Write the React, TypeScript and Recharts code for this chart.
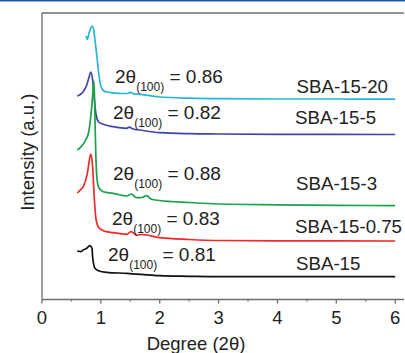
import { LineChart, Line, XAxis, YAxis, ReferenceLine } from "recharts";

// x = degree (2θ), y = intensity (a.u., curves stacked with offsets)
const sba15_20 = [
  [0.75, 263.5], [0.77, 260], [0.8, 266.5], [0.83, 271.5], [0.855, 273.5],
  [0.88, 269.5], [0.9, 259.5], [0.93, 244.5], [0.97, 223.5], [1.0, 213.5],
  [1.04, 209], [1.1, 207.5], [1.2, 206.7], [1.35, 206], [1.44, 206],
  [1.5, 207.2], [1.56, 205.7], [1.66, 205.2], [1.83, 203.8], [2.0, 202.5],
  [2.5, 201.3], [3.0, 200.8], [4.0, 200.5], [5.0, 200.5], [6.0, 200.3],
];
const sba15_5 = [
  [0.6, 203.5], [0.65, 205], [0.7, 207.8], [0.76, 214.5], [0.8, 222.5],
  [0.83, 227.5], [0.86, 219.5], [0.89, 199.5], [0.92, 184.5], [0.96, 177.8],
  [1.04, 175.2], [1.21, 172.8], [1.44, 171.2], [1.48, 172.3], [1.55, 170.5],
  [1.66, 169.5], [2.0, 166.8], [2.5, 165.8], [3.0, 165.5], [4.0, 165.2],
  [6.0, 165],
];
const sba15_3 = [
  [0.6, 149.5], [0.69, 154.5], [0.75, 160.5], [0.79, 166.5], [0.84, 189.5],
  [0.865, 207.5], [0.885, 218.5], [0.9, 179.5], [0.917, 139.5], [0.94, 117.8],
  [0.97, 111.2], [1.04, 107.8], [1.21, 106.2], [1.44, 103.5], [1.52, 105.5],
  [1.6, 101.8], [1.7, 102], [1.78, 103.8], [1.85, 100.5], [2.0, 99],
  [2.5, 97], [3.0, 95.5], [4.0, 94.7], [5.0, 94.2], [6.0, 93.8],
];
const sba15_075 = [
  [0.6, 106.5], [0.65, 109.5], [0.7, 112.8], [0.77, 126.2], [0.8, 137.5],
  [0.83, 145.5], [0.86, 132.8], [0.89, 99.5], [0.92, 79.5], [0.96, 72.2],
  [1.04, 68.8], [1.21, 66.8], [1.44, 65.2], [1.51, 67.8], [1.61, 64.5],
  [1.7, 65], [1.78, 64.5], [2.0, 61.8], [2.5, 60], [3.0, 59], [4.0, 58.7],
  [6.0, 58.5],
];
const sba15 = [
  [0.6, 48.8], [0.66, 47.8], [0.7, 49.5], [0.76, 51.2], [0.81, 53.8],
  [0.85, 51.2], [0.86, 42.8], [0.875, 36.2], [0.9, 31.2], [0.96, 28.8],
  [1.1, 27.2], [1.44, 26.2], [2.0, 23.8], [2.5, 23.2], [3.0, 22.8],
  [6.0, 22.8],
];

const sampleNames = ["SBA-15-20", "SBA-15-5", "SBA-15-3", "SBA-15-0.75", "SBA-15"];
const peakPositions = ["0.86", "0.82", "0.88", "0.83", "0.81"];
const colors = ["#27b6d6", "#3c47a6", "#19a24a", "#f02828", "#111111"];
const seriesData = [sba15_20, sba15_5, sba15_3, sba15_075, sba15];

const xTicks = [0, 0.5, 1, 1.5, 2, 2.5, 3, 3.5, 4, 4.5, 5, 5.5, 6];

const toPoints = (arr: number[][]) => arr.map(([x, y]) => ({ x, y }));

const FONT = "'Liberation Sans', Arial, sans-serif";
const AXIS = "#6e6e6e";

const DegreeTick = (props: any) => {
  const { x, y, payload } = props;
  const major = Number.isInteger(payload.value);
  return (
    <g>
      <line x1={x} x2={x} y1={y} y2={y + (major ? 4 : 2)} stroke={AXIS} strokeWidth={1.3} />
      {major && (
        <text x={x} y={y + 24} textAnchor="middle" fontSize={18.5} fill="#222" fontFamily={FONT}>
          {payload.value}
        </text>
      )}
    </g>
  );
};

// text placement (px)
const annotPos = [
  [115, 83], [113, 119], [113, 179.5], [112, 224.5], [108, 260.5],
];
const namePos = [
  [296.5, 92.5], [295, 124], [296, 190], [295, 232.5], [296, 270],
];

export default function App() {
  return (
    <div style={{ position: "absolute", left: 0, top: 0, width: 405, height: 353, background: "#fff", overflow: "hidden" }}>
      <LineChart
        width={405}
        height={353}
        margin={{ top: 13, right: 1, bottom: 0, left: 0 }}
        style={{ fontFamily: FONT }}
      >
        <XAxis
          type="number"
          dataKey="x"
          domain={[0, 6.15]}
          ticks={xTicks}
          interval={0}
          allowDataOverflow
          height={53.5}
          tickSize={0}
          tickMargin={0}
          tickLine={false}
          axisLine={{ stroke: AXIS, strokeWidth: 1.3 }}
          tick={<DegreeTick />}
          label={{
            content: ({ viewBox }: any) => (
              <text x={viewBox.x + 154} y={viewBox.y + 50} textAnchor="middle" fontSize={18.5} fill="#222" fontFamily={FONT}>
                Degree (2θ)
              </text>
            ),
          }}
        />
        <YAxis
          type="number"
          domain={[0, 286.5]}
          allowDataOverflow
          width={42}
          tick={false}
          tickLine={false}
          axisLine={{ stroke: AXIS, strokeWidth: 1.3 }}
          label={{
            content: ({ viewBox }: any) => {
              const cx = viewBox.x + 27;
              const cy = viewBox.y + viewBox.height / 2 - 4;
              return (
                <text x={cx} y={cy} transform={`rotate(-90, ${cx}, ${cy})`} textAnchor="middle" dominantBaseline="central" fontSize={18.5} fill="#222" fontFamily={FONT}>
                  Intensity (a.u.)
                </text>
              );
            },
          }}
        />
        <ReferenceLine y={286.5} stroke={AXIS} strokeWidth={1.3} />
        {seriesData.map((d, i) => (
          <Line
            key={sampleNames[i]}
            data={toPoints(d)}
            dataKey="y"
            type="monotone"
            stroke={colors[i]}
            strokeWidth={1.7}
            dot={false}
            isAnimationActive={false}
          />
        ))}
      </LineChart>
      <svg width={405} height={353} style={{ position: "absolute", left: 0, top: 0, pointerEvents: "none" }} fontFamily={FONT}>
        <rect x={0} y={0} width={405} height={1.5} fill="#1d5aa5" />
        {peakPositions.map((p, i) => (
          <text key={"a" + i} x={annotPos[i][0]} y={annotPos[i][1]} fontSize={19} fill="#222">
            2θ
            <tspan fontSize={12} dy={8}>(100)</tspan>
            <tspan fontSize={19} dy={-8}>{" = " + p}</tspan>
          </text>
        ))}
        {sampleNames.map((n, i) => (
          <text key={"n" + i} x={namePos[i][0]} y={namePos[i][1]} fontSize={18.7} fill="#222">
            {n}
          </text>
        ))}
      </svg>
    </div>
  );
}
